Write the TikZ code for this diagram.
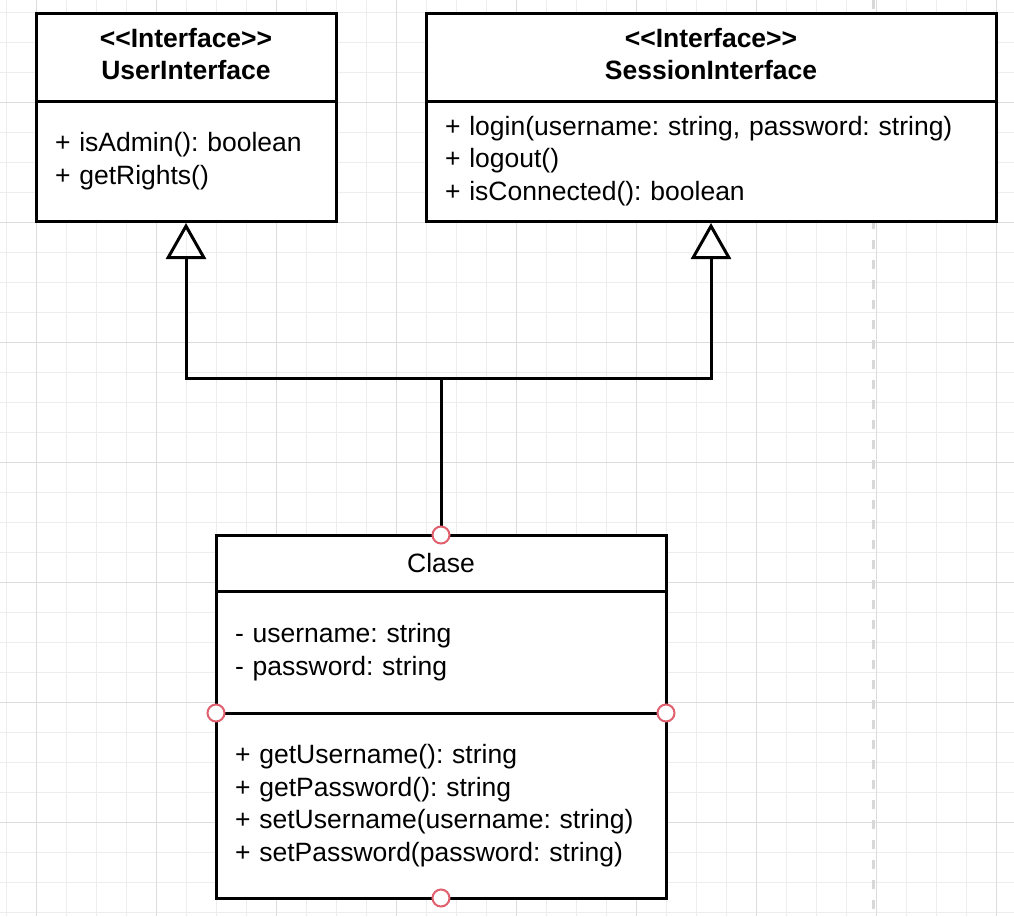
\documentclass[tikz,border=0pt]{standalone}
\usepackage{fontspec}
\setmainfont{Liberation Sans}
\usetikzlibrary{positioning,arrows.meta}
\definecolor{gridminor}{HTML}{EDEDED}
\definecolor{gridmajor}{HTML}{DCDCDC}
\definecolor{pagebreak}{HTML}{D8D8D8}
\definecolor{portred}{HTML}{E0606E}
\frenchspacing
\newcommand{\umlfont}{\fontsize{26.5}{32.5}\selectfont}
\newcommand{\lift}{\rule[-6pt]{0pt}{6pt}}
\tikzset{
  box/.style={draw, fill=white, line width=3pt, inner sep=0pt, outer sep=0pt, font=\umlfont},
  head/.style={box, align=center},
  comp/.style={box, inner xsep=19pt, align=left},
  port/.style={circle, draw=portred, fill=white, line width=2pt, minimum size=17pt, inner sep=0pt},
  realize/.style={line width=3pt, shorten >=2pt, -{Triangle[open, length=36pt, width=40pt]}},
}
\begin{document}
\begin{tikzpicture}[x=1pt, y=-1pt]
\fill[white] (0,0) rectangle (1014,916);
\useasboundingbox (0,0) rectangle (1014,916);
\foreach \i in {0,...,33} \draw[gridminor, line width=1pt] (6.7+30*\i,0) -- (6.7+30*\i,916);
\foreach \j in {0,...,30} \draw[gridminor, line width=1pt] (0,12.3+30*\j) -- (1014,12.3+30*\j);
\foreach \i in {0,...,8} \draw[gridmajor, line width=1pt] (36.7+120*\i,0) -- (36.7+120*\i,916);
\foreach \j in {0,...,7} \draw[gridmajor, line width=1pt] (0,-17.7+120*\j) -- (1014,-17.7+120*\j);
\draw[pagebreak, line width=3pt, dash pattern=on 9pt off 11pt] (873.3,0) -- (873.3,916);

\node[head, minimum width=300pt, minimum height=88pt, anchor=north west] (user) at (36,13)
  {\textbf{<\kern0pt<Interface>\kern0pt>}\\\textbf{UserInterface}\lift};
\node[comp, minimum width=300pt, text width=262pt, minimum height=120pt, below=0pt of user] (userops)
  {+ isAdmin(): boolean\\+ getRights()};

\node[head, minimum width=570pt, minimum height=88pt, anchor=north west] (sess) at (426,13)
  {\textbf{<\kern0pt<Interface>\kern0pt>}\\\textbf{SessionInterface}\lift};
\node[comp, minimum width=570pt, text width=532pt, minimum height=120pt, below=0pt of sess] (sessops)
  {+ login(username: string, password: string)\\+ logout()\\+ isConnected(): boolean};

\node[head, minimum width=450pt, minimum height=56pt, anchor=north west] (clase) at (216,535) {Clase};
\node[comp, minimum width=450pt, text width=412pt, minimum height=122pt, below=0pt of clase] (claseattr)
  {- username: string\\- password: string};
\node[comp, minimum width=450pt, text width=412pt, minimum height=185pt, below=0pt of claseattr] (claseops)
  {+ getUsername(): string\\+ getPassword(): string\\+ setUsername(username: string)\\+ setPassword(password: string)};

\coordinate (fork) at (441,378);
\draw[realize] (clase.north) -- (fork) -| (userops.south);
\draw[realize] (fork) -| (sessops.south);

\node[port] (ptop) at (clase.north) {};
\node[port] (pleft) at (claseops.north west) {};
\node[port] (pright) at (claseops.north east) {};
\node[port] (pbottom) at (claseops.south) {};
\end{tikzpicture}
\end{document}
